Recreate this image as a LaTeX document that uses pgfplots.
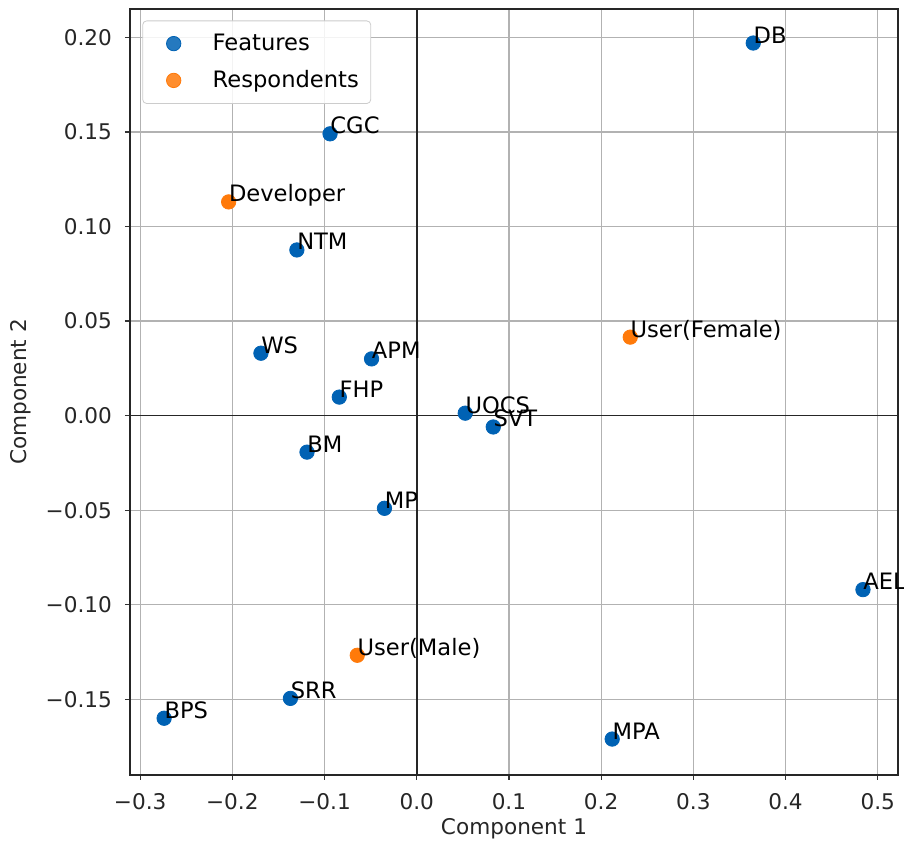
\documentclass[border=0pt]{standalone}
\usepackage{pgfplots}
\pgfplotsset{compat=1.18}
\usepackage{pgfplotstable}
\usepackage{fontspec}
\setmainfont{DejaVu Sans}
\definecolor{mblue}{RGB}{0,98,180}
\definecolor{morange}{RGB}{255,122,10}
\definecolor{txt}{RGB}{38,38,38}

\pgfplotstableread{
x y label
0.365 0.197 DB
-0.094 0.149 CGC
-0.130 0.0876 NTM
-0.169 0.033 WS
-0.049 0.030 APM
-0.084 0.0098 FHP
0.0526 0.0013 UOCS
0.083 -0.006 SVT
-0.119 -0.0193 BM
-0.035 -0.049 MP
0.484 -0.092 AEL
-0.137 -0.1495 SRR
-0.274 -0.160 BPS
0.212 -0.171 MPA
}\features

\pgfplotstableread{
x y label
-0.204 0.113 Developer
0.2316 0.0415 User(Female)
-0.0645 -0.1267 User(Male)
}\respondents

\begin{document}
\begin{tikzpicture}
\begin{axis}[
  scale only axis, width=384pt, height=383pt,
  xmin=-0.311, xmax=0.522, ymin=-0.190, ymax=0.215,
  xtick={-0.3,-0.2,-0.1,0,0.1,0.2,0.3,0.4,0.5},
  xticklabels={−0.3,−0.2,−0.1,0.0,0.1,0.2,0.3,0.4,0.5},
  ytick={-0.15,-0.10,-0.05,0,0.05,0.10,0.15,0.20},
  yticklabels={−0.15,−0.10,−0.05,0.00,0.05,0.10,0.15,0.20},
  grid=major, grid style={color=black!30, line width=0.6pt},
  tick align=outside, tick pos=left, major tick length=2.5pt,
  tick style={black!80, line width=0.6pt},
  axis line style={line width=0.9pt, black!85},
  xlabel={Component 1}, ylabel={Component 2},
  label style={font=\fontsize{10.8}{13}\selectfont, text=txt},
  ticklabel style={font=\fontsize{10.8}{13}\selectfont, text=txt},
  xticklabel style={yshift=-3pt},
  yticklabel style={xshift=-3pt},
  xlabel style={at={(axis description cs:0.5,0)}, anchor=center, yshift=-27pt},
  ylabel style={at={(axis description cs:0,0.5)}, anchor=center, yshift=54.5pt},
  legend style={at={(0.016,0.985)}, anchor=north west, draw=black!20, rounded corners=2pt,
    fill=white, fill opacity=0.85, text opacity=1, font=\fontsize{11.3}{13}\selectfont,
    inner xsep=4pt, inner ysep=4.5pt, row sep=4.5pt, cells={anchor=west}},
  legend image code/.code={\path[draw=none,fill=none] (0pt,0pt) rectangle (29pt,0pt); \draw[#1] plot coordinates {(11.5pt,0pt)};},
  nodes near coords, point meta=explicit symbolic,
  nodes near coords style={anchor=base west, inner sep=0pt, text=black, font=\fontsize{11.3}{13}\selectfont},
]
\addplot[forget plot, black!85, line width=0.8pt] coordinates {(0,-0.190) (0,0.215)};
\addplot[forget plot, black!85, line width=0.8pt] coordinates {(-0.311,0) (0.522,0)};
\addplot[only marks, mark=*, mark size=3.6pt, color=mblue] table[x=x, y=y, meta=label] {\features};
\addlegendentry{Features}
\addplot[only marks, mark=*, mark size=3.6pt, color=morange] table[x=x, y=y, meta=label] {\respondents};
\addlegendentry{Respondents}
\end{axis}
\pgfresetboundingbox
\useasboundingbox ([shift={(-65pt,-37pt)}]current axis.south west) rectangle ([shift={(387pt,387.5pt)}]current axis.south west);
\end{tikzpicture}
\end{document}
